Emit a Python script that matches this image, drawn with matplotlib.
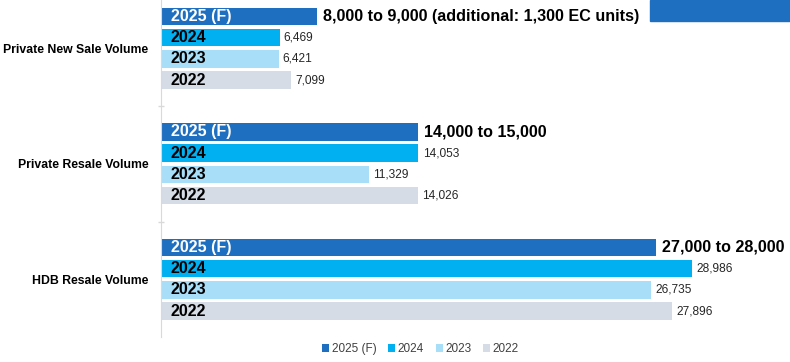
import numpy as np
import matplotlib
matplotlib.use('Agg')
import matplotlib.pyplot as plt
from matplotlib.patches import Rectangle

plt.rcParams['font.family'] = ['Liberation Sans', 'DejaVu Sans']

categories = ['Private New Sale Volume', 'Private Resale Volume', 'HDB Resale Volume']
series = ['2025 (F)', '2024', '2023', '2022']
colors = ['#1F6FC1', '#00B0F0', '#A9DEF9', '#D5DCE5']
label_colors = ['white', 'black', 'black', 'black']

# forecast bars drawn at the low end of the range
vals_2025 = [8500, 14000, 27000]
vals_2024 = [6469, 14053, 28986]
vals_2023 = [6421, 11329, 26735]
vals_2022 = [7099, 14026, 27896]
forecast_text = ['8,000 to 9,000 (additional: 1,300 EC units)',
                 '14,000 to 15,000', '27,000 to 28,000']

values = [vals_2025, vals_2024, vals_2023, vals_2022]

fig = plt.figure(figsize=(7.9, 3.62), dpi=100)
ax = fig.add_axes([161 / 790, 25 / 362, 629 / 790, 346.5 / 362])

pitch = 0.1845
height = 0.152
y = np.arange(len(categories))

for k, (name, vals) in enumerate(zip(series, values)):
    yy = y + (k - 1.5) * pitch
    ax.barh(yy, vals, height=height, color=colors[k], label=name)
    for i, v in enumerate(vals):
        ax.annotate(name, (0, yy[i]), xytext=(7, 0), textcoords='offset points',
                    ha='left', va='center', fontsize=11.5,
                    fontweight='bold', color=label_colors[k])
        if k == 0:
            ax.annotate(forecast_text[i], (v, yy[i]), xytext=(4.5, 0),
                        textcoords='offset points', ha='left', va='center',
                        fontsize=11.6, fontweight='bold', color='black')
        else:
            ax.annotate(f'{v:,}', (v, yy[i]), xytext=(3, 0),
                        textcoords='offset points', ha='left', va='center',
                        fontsize=8.6, color='#262626')

ax.set_xlim(0, 34330)
ax.set_ylim(2.5, -0.5)
ax.set_xticks([])
ax.set_yticks(y)
ax.set_yticklabels(categories, fontsize=8.8, fontweight='bold')
ax.tick_params(axis='y', length=0, pad=9)
ax.set_yticks([0.5, 1.5], minor=True)
ax.tick_params(axis='y', which='minor', direction='inout', length=5,
               color='#D9D9D9', width=1)
for s in ['top', 'right', 'bottom']:
    ax.spines[s].set_visible(False)
ax.spines['left'].set_color('#D9D9D9')

# stray blue shape at the top right of the original image
fig.patches.append(Rectangle((650 / 790, 341 / 362), 140 / 790, 21 / 362,
                             transform=fig.transFigure, color=colors[0]))

fig.legend(loc='lower center', bbox_to_anchor=(0.532, -0.01), ncol=4,
           frameon=False, fontsize=8.5, handlelength=0.6, handleheight=0.6,
           handletextpad=0.2, columnspacing=1.0, labelcolor='#404040')

fig.savefig('out.png', dpi=100)
